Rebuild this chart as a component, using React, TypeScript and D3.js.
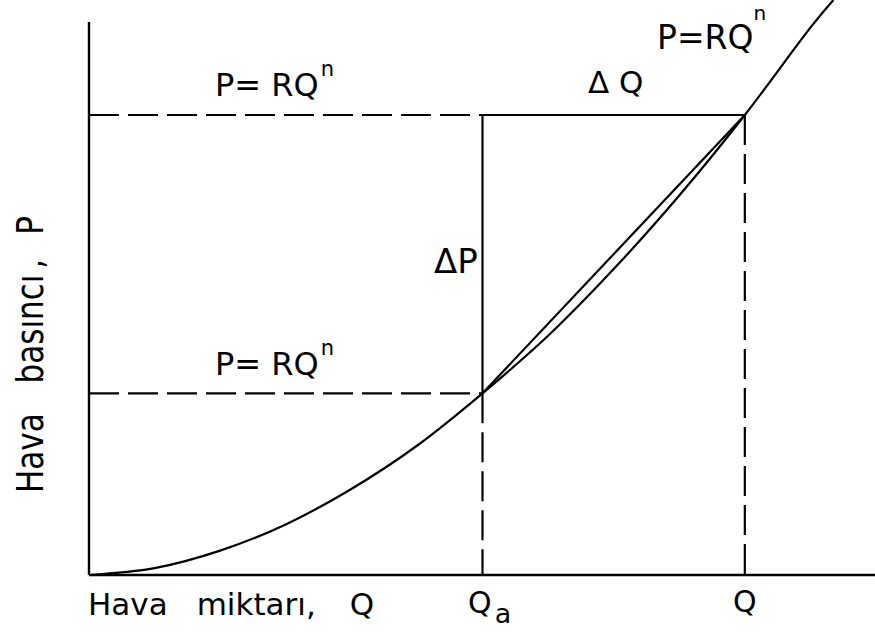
import React from 'react';
import * as d3 from 'd3';

// Curve P = R Q^n (Q, P in arbitrary units)
const curveQ = [0, 1, 2, 3, 4, 5, 6, 7, 8, 9, 10, 11, 11.35];
const curveP = [0, 0.15, 0.53, 1.1, 1.87, 2.81, 3.95, 5.2, 6.65, 8.25, 10, 11.9, 12.5];
// Marked operating points
const markQ = [6, 10];
const markP = [3.95, 10];
// Text
const xAxisWords = ['Hava', 'miktarı,', 'Q'];
const yAxisWords = ['Hava', 'basıncı', ',', 'P'];
const lawLabel = 'P= RQ';
const lawTopLabel = 'P=RQ';

const W = 875;
const H = 633;
const FONT = '"DejaVu Sans", Verdana, sans-serif';

export default function App() {
  const x = d3.scaleLinear().domain([0, 12]).range([89, 876]);
  const y = d3.scaleLinear().domain([0, 12.5]).range([575, 0]);

  const pts: [number, number][] = curveQ.map((q, i) => [q, curveP[i]]);
  const line = d3
    .line<[number, number]>()
    .x((d) => x(d[0]))
    .y((d) => y(d[1]))
    .curve(d3.curveCatmullRom.alpha(0.5));

  const xa = x(markQ[0]);
  const xb = x(markQ[1]);
  const ya = y(markP[0]);
  const yb = y(markP[1]);
  const x0 = x(0);
  const y0 = y(0);
  const yTop = y(12.02);

  const dash = '30,9';
  const sw = 2.2;

  const xGaps = [0, 29, 34];
  const yGaps = [0, 30, 6, 24];

  return (
    <svg
      width={W}
      height={H}
      viewBox={`0 0 ${W} ${H}`}
      style={{ position: 'absolute', left: 0, top: 0, background: '#fff' }}
      fontFamily={FONT}
    >
      <rect x={0} y={0} width={W} height={H} fill="#fff" />
      {/* axes */}
      <line x1={x0} y1={yTop} x2={x0} y2={y0} stroke="#000" strokeWidth={2.4} />
      <line x1={x0} y1={y0} x2={x(12)} y2={y0} stroke="#000" strokeWidth={2.4} />

      {/* dashed guides */}
      <line x1={x0} y1={ya} x2={xa} y2={ya} stroke="#000" strokeWidth={sw} strokeDasharray={dash} />
      <line x1={x0} y1={yb} x2={xa} y2={yb} stroke="#000" strokeWidth={sw} strokeDasharray={dash} />
      <line x1={xa} y1={ya} x2={xa} y2={y0} stroke="#000" strokeWidth={sw} strokeDasharray={dash} />
      <line x1={xb} y1={yb} x2={xb} y2={y0} stroke="#000" strokeWidth={sw} strokeDasharray={dash} />

      {/* solid ΔQ / ΔP legs */}
      <line x1={xa} y1={yb} x2={xb} y2={yb} stroke="#000" strokeWidth={sw} />
      <line x1={xa} y1={yb} x2={xa} y2={ya} stroke="#000" strokeWidth={sw} />

      {/* chord */}
      <line x1={xa} y1={ya} x2={xb} y2={yb} stroke="#000" strokeWidth={sw} />

      {/* curve */}
      <path d={line(pts) ?? ''} fill="none" stroke="#000" strokeWidth={sw} />

      {/* labels */}
      <text x={215} y={96} fontSize={32} fill="#000">
        {lawLabel}
        <tspan dx={2} dy={-20} fontSize={21}>n</tspan>
      </text>
      <text x={215} y={375} fontSize={32} fill="#000">
        {lawLabel}
        <tspan dx={2} dy={-20} fontSize={21}>n</tspan>
      </text>
      <text x={657} y={49} fontSize={33} fill="#000">
        {lawTopLabel}
        <tspan dx={0} dy={-29} fontSize={20}>n</tspan>
      </text>
      <text x={588} y={93} fontSize={31} fill="#000" style={{ whiteSpace: 'pre' }}>
        {'Δ Q'}
      </text>
      <text x={434} y={273} fontSize={34} fill="#000">
        ΔP
      </text>

      <text x={88} y={615} fontSize={31} fill="#000">
        {xAxisWords.map((w, i) => (
          <tspan key={i} dx={xGaps[i]}>{w}</tspan>
        ))}
      </text>
      <text x={468} y={613} fontSize={30} fill="#000">
        Q
        <tspan dx={3} dy={10} fontSize={27}>a</tspan>
      </text>
      <text x={733} y={612} fontSize={30} fill="#000">
        Q
      </text>

      <text
        transform={`translate(43, 493) rotate(-90) scale(1, 1.18)`}
        fontSize={31}
        fill="#000"
      >
        {yAxisWords.map((w, i) => (
          <tspan key={i} dx={yGaps[i]}>{w}</tspan>
        ))}
      </text>
    </svg>
  );
}
